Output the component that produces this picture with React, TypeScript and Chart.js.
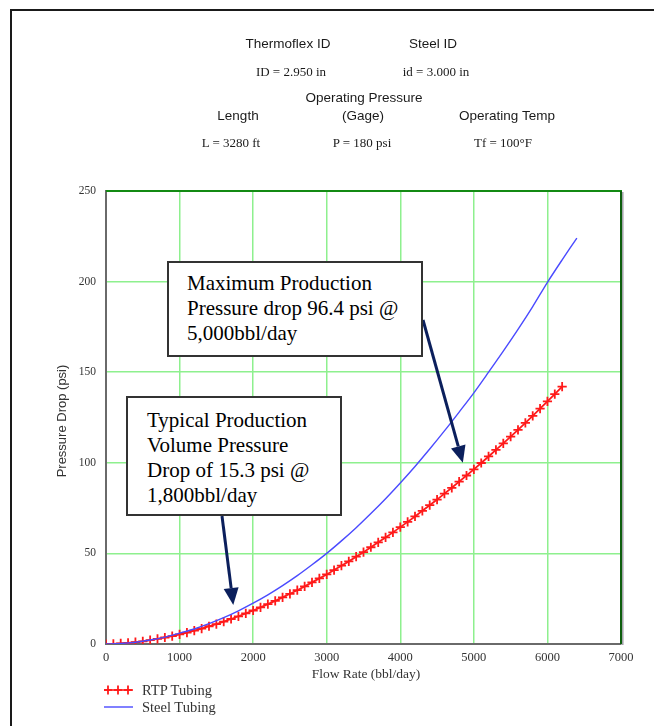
import React, { useEffect, useRef } from "react";
import { Chart, registerables } from "chart.js";

Chart.register(...registerables);

// ---- data ----
const rtpFlow = [
  0, 100, 200, 300, 400, 500, 600, 700, 800, 900, 1000, 1100, 1200, 1300, 1400, 1500,
  1600, 1700, 1800, 1900, 2000, 2100, 2200, 2300, 2400, 2500, 2600, 2700, 2800, 2900,
  3000, 3100, 3200, 3300, 3400, 3500, 3600, 3700, 3800, 3900, 4000, 4100, 4200, 4300,
  4400, 4500, 4600, 4700, 4800, 4900, 5000, 5100, 5200, 5300, 5400, 5500, 5600, 5700,
  5800, 5900, 6000, 6100, 6200,
];
const rtpDrop = [
  0, 0.1, 0.3, 0.6, 1.0, 1.5, 2.1, 2.8, 3.6, 4.4, 5.3, 6.3, 7.4, 8.5, 9.8, 11.0,
  12.4, 13.8, 15.3, 16.9, 18.5, 20.2, 22.0, 23.8, 25.7, 27.7, 29.7, 31.8, 34.0, 36.2,
  38.4, 40.8, 43.2, 45.6, 48.2, 50.7, 53.4, 56.1, 58.8, 61.6, 64.5, 67.4, 70.4, 73.5,
  76.6, 79.7, 83.0, 86.2, 89.6, 93.0, 96.4, 99.9, 103.5, 107.1, 110.7, 114.4, 118.2, 122.0,
  125.9, 129.9, 133.9, 137.9, 142.0,
];
const steelFlow = [
  0, 200, 400, 600, 800, 1000, 1200, 1400, 1600, 1800, 2000, 2200, 2400, 2600, 2800,
  3000, 3200, 3400, 3600, 3800, 4000, 4200, 4400, 4600, 4800, 5000, 5200, 5400, 5600,
  5800, 6000, 6200, 6400,
];
const steelDrop = [
  0, 0.3, 1.0, 2.2, 3.8, 6.0, 8.3, 11.2, 14.5, 18.3, 22.5, 27.1, 32.2, 37.7, 43.7,
  50.0, 56.9, 64.2, 72.0, 80.2, 88.9, 98.0, 107.6, 117.6, 128.0, 138.6, 150.0, 161.6, 173.6,
  186.2, 199.6, 212.0, 224.0,
];
const xTickValues = [0, 1000, 2000, 3000, 4000, 5000, 6000, 7000];
const yTickValues = [0, 50, 100, 150, 200, 250];

// annotation anchors (data coordinates the arrows point to)
const maxArrowTip = { x: 4850, y: 100 };
const typArrowTip = { x: 1730, y: 21.5 };

const SERIF = "'Liberation Serif', 'Times New Roman', serif";
const SANS = "'Liberation Sans', Arial, sans-serif";

function drawArrow(ctx: CanvasRenderingContext2D, x0: number, y0: number, x1: number, y1: number) {
  const ang = Math.atan2(y1 - y0, x1 - x0);
  const headLen = 17;
  const headW = 7.5;
  const bx = x1 - headLen * Math.cos(ang);
  const by = y1 - headLen * Math.sin(ang);
  ctx.strokeStyle = "#0b1f5c";
  ctx.fillStyle = "#0b1f5c";
  ctx.lineWidth = 3;
  ctx.beginPath();
  ctx.moveTo(x0, y0);
  ctx.lineTo(bx, by);
  ctx.stroke();
  ctx.beginPath();
  ctx.moveTo(x1, y1);
  ctx.lineTo(bx + headW * Math.sin(ang), by - headW * Math.cos(ang));
  ctx.lineTo(bx - headW * Math.sin(ang), by + headW * Math.cos(ang));
  ctx.closePath();
  ctx.fill();
}

const decorPlugin = {
  id: "decor",
  afterDraw(chart: any) {
    const { ctx, chartArea: a, scales } = chart;
    ctx.save();
    // top border (dark green)
    ctx.strokeStyle = "#138a13";
    ctx.lineWidth = 2;
    ctx.beginPath();
    ctx.moveTo(a.left, a.top);
    ctx.lineTo(a.right + 1, a.top);
    ctx.stroke();
    // right border with grey shadow
    ctx.strokeStyle = "#a0a0a8";
    ctx.lineWidth = 1.5;
    ctx.beginPath();
    ctx.moveTo(a.right + 1.8, a.top + 1);
    ctx.lineTo(a.right + 1.8, a.bottom + 1);
    ctx.stroke();
    ctx.strokeStyle = "#0d5e0d";
    ctx.lineWidth = 2;
    ctx.beginPath();
    ctx.moveTo(a.right, a.top);
    ctx.lineTo(a.right, a.bottom);
    ctx.stroke();
    // arrows
    const x = scales.x;
    const y = scales.y;
    drawArrow(ctx, 423, 320, x.getPixelForValue(maxArrowTip.x), y.getPixelForValue(maxArrowTip.y));
    drawArrow(ctx, 222, 516, x.getPixelForValue(typArrowTip.x), y.getPixelForValue(typArrowTip.y));
    ctx.restore();
  },
};

function Label(props: { cx: number; cy: number; text: string; font: string; size: number; color?: string }) {
  return (
    <div
      style={{
        position: "absolute",
        left: props.cx - 150,
        top: props.cy - 10,
        width: 300,
        height: 20,
        lineHeight: "20px",
        textAlign: "center",
        fontFamily: props.font,
        fontSize: props.size,
        color: props.color || "#1a1a1a",
        whiteSpace: "nowrap",
      }}
    >
      {props.text}
    </div>
  );
}

function Box(props: { left: number; top: number; width: number; height: number; pad: number; padLeft: number; lines: string[] }) {
  return (
    <div
      style={{
        position: "absolute",
        left: props.left,
        top: props.top,
        width: props.width,
        height: props.height,
        boxSizing: "border-box",
        border: "2px solid #333",
        background: "#fff",
        paddingTop: props.pad,
        paddingLeft: props.padLeft,
        fontFamily: SERIF,
        fontSize: 21,
        lineHeight: "25px",
        color: "#000",
        whiteSpace: "nowrap",
      }}
    >
      {props.lines.map((l, i) => (
        <div key={i}>{l}</div>
      ))}
    </div>
  );
}

export default function App() {
  const canvasRef = useRef<HTMLCanvasElement | null>(null);

  useEffect(() => {
    const canvas = canvasRef.current;
    if (!canvas) return;
    const chart = new Chart(canvas, {
      type: "line",
      data: {
        datasets: [
          {
            label: "Steel Tubing",
            data: steelFlow.map((f, i) => ({ x: f, y: steelDrop[i] })),
            borderColor: "#4a4aff",
            borderWidth: 1.4,
            pointRadius: 0,
            tension: 0.3,
            fill: false,
          },
          {
            label: "RTP Tubing",
            data: rtpFlow.map((f, i) => ({ x: f, y: rtpDrop[i] })),
            borderColor: "#ff1a1a",
            backgroundColor: "#ff1a1a",
            borderWidth: 1.8,
            pointStyle: "cross",
            pointRadius: 4.6,
            pointBorderWidth: 1.8,
            pointBorderColor: "#ff1a1a",
            fill: false,
          },
        ],
      },
      options: {
        responsive: false,
        animation: false,
        devicePixelRatio: 1,
        layout: { padding: { left: 66, top: 191, right: 33, bottom: 52 } },
        plugins: { legend: { display: false }, tooltip: { enabled: false }, title: { display: false } },
        scales: {
          x: {
            type: "linear",
            min: 0,
            max: 7000,
            afterBuildTicks: (s: any) => {
              s.ticks = xTickValues.map((v) => ({ value: v }));
            },
            afterFit: (s: any) => {
              s.height = 30;
            },
            ticks: {
              padding: 6,
              maxRotation: 0,
              autoSkip: false,
              color: "#333",
              font: { family: SERIF, size: 12.5 },
              callback: (v: any) => String(v),
            },
            grid: { color: "#8ef08e", lineWidth: 1.5, drawTicks: false },
            border: { color: "#6a6a6a", width: 2 },
          },
          y: {
            type: "linear",
            min: 0,
            max: 250,
            afterBuildTicks: (s: any) => {
              s.ticks = yTickValues.map((v) => ({ value: v }));
            },
            afterFit: (s: any) => {
              s.width = 40;
            },
            ticks: {
              padding: 10,
              autoSkip: false,
              color: "#333",
              font: { family: SERIF, size: 11.5 },
              callback: (v: any) => String(v),
            },
            grid: { color: "#8ef08e", lineWidth: 1.5, drawTicks: false },
            border: { color: "#6a6a6a", width: 2 },
          },
        },
      },
      plugins: [decorPlugin],
    } as any);
    return () => chart.destroy();
  }, []);

  return (
    <div
      style={{
        position: "fixed",
        left: 0,
        top: 0,
        width: 654,
        height: 726,
        background: "#fff",
        overflow: "hidden",
      }}
    >
      <canvas ref={canvasRef} width={654} height={726} style={{ position: "absolute", left: 0, top: 0, width: 654, height: 726 }} />
      {/* page frame */}
      <div
        style={{
          position: "absolute",
          left: 10,
          top: 9,
          width: 700,
          height: 800,
          borderTop: "2px solid #1a1a1a",
          borderLeft: "2px solid #1a1a1a",
        }}
      />
      {/* header */}
      <Label cx={288} cy={44} text="Thermoflex ID" font={SANS} size={13.5} />
      <Label cx={433} cy={44} text="Steel ID" font={SANS} size={13.5} />
      <Label cx={291} cy={72} text="ID = 2.950 in" font={SERIF} size={13} />
      <Label cx={436} cy={72} text="id = 3.000 in" font={SERIF} size={13} />
      <Label cx={364} cy={98} text="Operating Pressure" font={SANS} size={13.5} />
      <Label cx={238} cy={116} text="Length" font={SANS} size={13.5} />
      <Label cx={363} cy={116} text="(Gage)" font={SANS} size={13.5} />
      <Label cx={507} cy={116} text="Operating Temp" font={SANS} size={13.5} />
      <Label cx={231} cy={143} text="L = 3280 ft" font={SERIF} size={13} />
      <Label cx={362} cy={143} text="P = 180 psi" font={SERIF} size={13} />
      <Label cx={503} cy={143} text="Tf = 100°F" font={SERIF} size={13} />
      {/* axis titles */}
      <div
        style={{
          position: "absolute",
          left: 62 - 100,
          top: 421 - 10,
          width: 200,
          height: 20,
          lineHeight: "20px",
          textAlign: "center",
          fontFamily: SANS,
          fontSize: 13,
          color: "#333",
          transform: "rotate(-90deg)",
          whiteSpace: "nowrap",
        }}
      >
        Pressure Drop (psi)
      </div>
      <Label cx={366} cy={674} text="Flow Rate (bbl/day)" font={SERIF} size={13.5} color="#333" />
      {/* annotation boxes */}
      <Box
        left={167}
        top={261}
        width={256}
        height={96}
        pad={8}
        padLeft={18}
        lines={["Maximum Production", "Pressure drop 96.4 psi @", "5,000bbl/day"]}
      />
      <Box
        left={126}
        top={396}
        width={216}
        height={120}
        pad={10}
        padLeft={19}
        lines={["Typical Production", "Volume Pressure", "Drop of 15.3 psi @", "1,800bbl/day"]}
      />
      {/* legend */}
      <div style={{ position: "absolute", left: 102, top: 681, height: 18, display: "flex", alignItems: "center" }}>
        <svg width={34} height={18}>
          <line x1={2} y1={9} x2={31} y2={9} stroke="#ff1a1a" strokeWidth={1.6} />
          {[6, 16, 26].map((cx) => (
            <g key={cx}>
              <line x1={cx - 4} y1={9} x2={cx + 4} y2={9} stroke="#ff1a1a" strokeWidth={1.8} />
              <line x1={cx} y1={4.5} x2={cx} y2={13.5} stroke="#ff1a1a" strokeWidth={1.8} />
            </g>
          ))}
        </svg>
        <span style={{ marginLeft: 6, fontFamily: SERIF, fontSize: 14.5, color: "#333" }}>RTP Tubing</span>
      </div>
      <div style={{ position: "absolute", left: 102, top: 698, height: 18, display: "flex", alignItems: "center" }}>
        <svg width={34} height={18}>
          <line x1={2} y1={9} x2={31} y2={9} stroke="#4a4aff" strokeWidth={1.4} />
        </svg>
        <span style={{ marginLeft: 6, fontFamily: SERIF, fontSize: 14.5, color: "#333" }}>Steel Tubing</span>
      </div>
    </div>
  );
}
